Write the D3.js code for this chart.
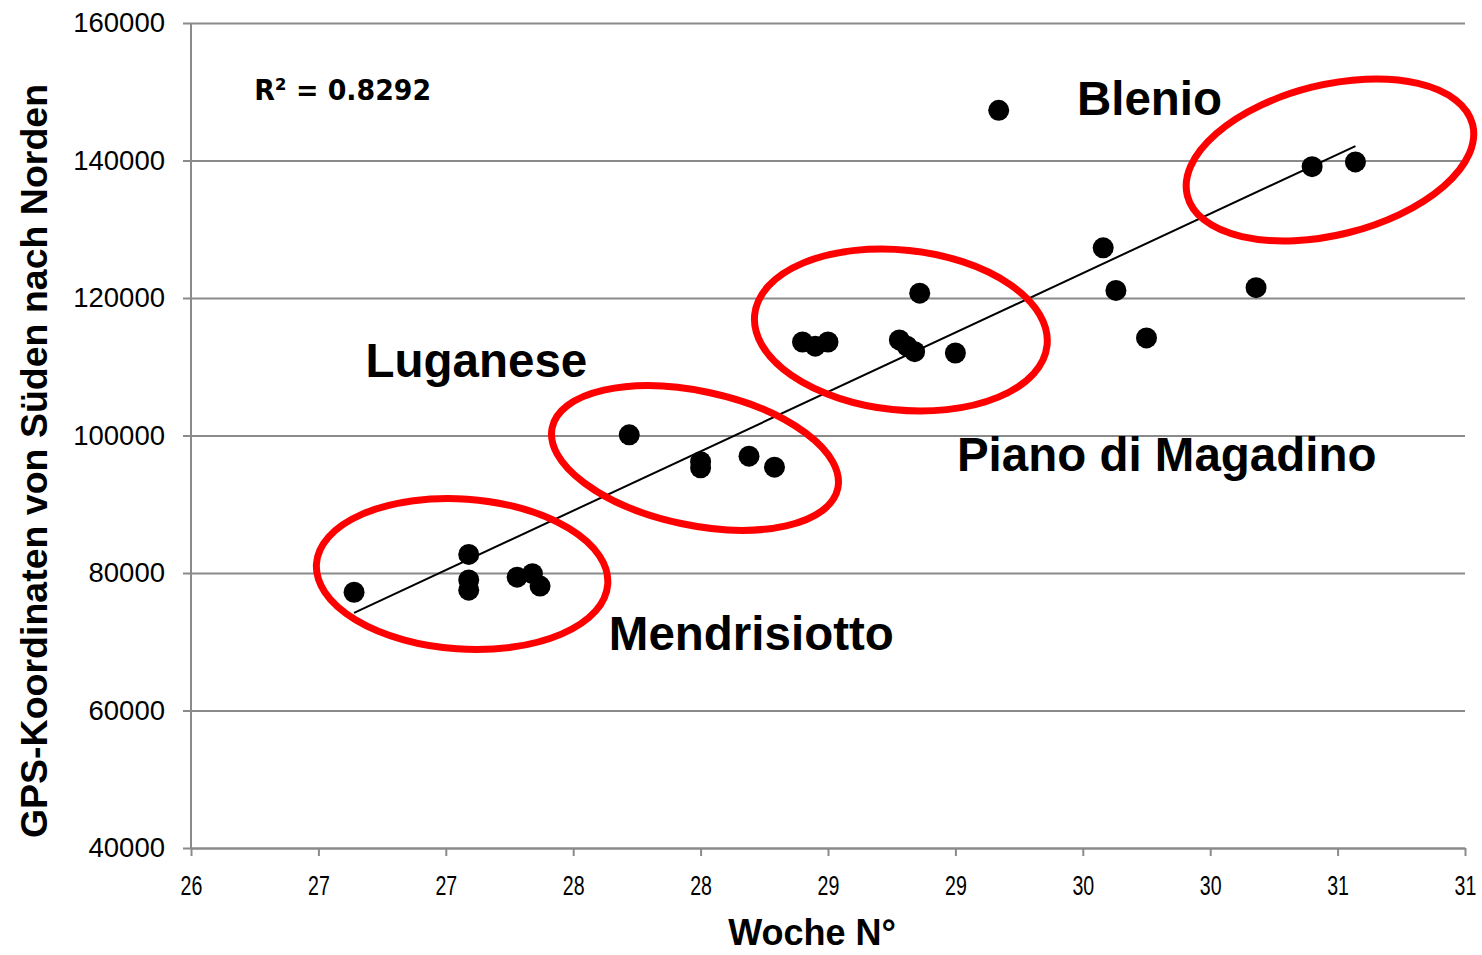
<!DOCTYPE html>
<html>
<head>
<meta charset="utf-8">
<script src="https://cdn.jsdelivr.net/npm/d3@7"></script>
<style>
  html, body { margin: 0; padding: 0; background: #fff; }
  svg { display: block; }
</style>
</head>
<body>
<svg id="chart" width="1482" height="955"></svg>
<script>
// ---- data ----
const weeks = [26.64, 27.09, 27.09, 27.09, 27.28, 27.34, 27.37,
               27.72, 28.00, 28.00, 28.19, 28.29,
               28.40, 28.45, 28.50, 28.78, 28.81, 28.84, 28.86, 29.00,
               29.17, 29.58, 29.63, 29.75, 30.18, 30.40, 30.57];
const coords = [77200, 82700, 79000, 77500, 79400, 79900, 78100,
                100100, 96200, 95300, 97000, 95400,
                113600, 113000, 113600, 113900, 113000, 112200, 120700, 112000,
                147300, 127300, 121100, 114200, 121500, 139100, 139800];
const trendWeeks = [26.64, 30.57];
const trendCoords = [74200, 142100];
const xTicks = [26, 26.5, 27, 27.5, 28, 28.5, 29, 29.5, 30, 30.5, 31];
const xTickLabels = ["26", "27", "27", "28", "28", "29", "29", "30", "30", "31", "31"];
const yTicks = [40000, 60000, 80000, 100000, 120000, 140000, 160000];
const regionNames = ["Mendrisiotto", "Luganese", "Piano di Magadino", "Blenio"];
const regionWeeks = [27.064, 27.978, 28.786, 30.470];      // ellipse centres
const regionCoords = [79855, 96727, 115345, 140073];
const labelWeeks = [27.64, 26.685, 29.006, 29.477];        // label anchors
const labelCoords = [68800, 108500, 94836, 146600];
const r2Text = "R\u00B2 = 0.8292";
const xTitle = "Woche N\u00B0";
const yTitle = "GPS-Koordinaten von S\u00FCden nach Norden";

(function () {
// ---- layout ----
const pLeft = 191, pRight = 1465, pTop = 23, pBottom = 848;
const gridColor = "#8a8a8a";
// ellipse shapes (pixels / degrees), in region order
const ellipseShape = [
  { a: 146, b: 75, rot: 4 },
  { a: 146, b: 67, rot: 12 },
  { a: 147, b: 80, rot: 6 },
  { a: 147, b: 75, rot: -14 }
];

const svg = d3.select("#chart");
const x = d3.scaleLinear().domain([26, 31]).range([pLeft, pRight]);
const y = d3.scaleLinear().domain([40000, 160000]).range([pBottom, pTop]);

// y gridlines + labels
const yAxis = d3.axisLeft(y)
  .tickValues(yTicks)
  .tickFormat(d3.format("d"))
  .tickSize(-(pRight - pLeft + 8))
  .tickPadding(18);
const gy = svg.append("g").attr("transform", `translate(${pLeft - 8},0)`).call(yAxis);
gy.select(".domain").remove();
gy.selectAll(".tick line").attr("stroke", gridColor).attr("stroke-width", 2);
gy.selectAll(".tick text")
  .attr("fill", "#000")
  .style("font-family", "'Liberation Sans', Arial, sans-serif")
  .style("font-size", "27.5px");

// vertical axis line
svg.append("line")
  .attr("x1", pLeft).attr("x2", pLeft)
  .attr("y1", y(160000)).attr("y2", y(40000))
  .attr("stroke", gridColor).attr("stroke-width", 2);

// x axis
const xAxis = d3.axisBottom(x)
  .tickValues(xTicks)
  .tickFormat((d, i) => xTickLabels[i])
  .tickSizeInner(8).tickSizeOuter(0)
  .tickPadding(19);
const gx = svg.append("g").attr("transform", `translate(0,${pBottom})`).call(xAxis);
gx.select(".domain").attr("stroke", gridColor).attr("stroke-width", 2);
gx.selectAll(".tick line").attr("stroke", gridColor).attr("stroke-width", 2);
gx.selectAll(".tick text")
  .attr("fill", "#000")
  .attr("transform", "scale(0.7,1)")
  .style("font-family", "'Liberation Sans', Arial, sans-serif")
  .style("font-size", "28px");

// trend line
svg.append("path")
  .datum(trendWeeks.map((w, i) => [w, trendCoords[i]]))
  .attr("d", d3.line().x(d => x(d[0])).y(d => y(d[1])))
  .attr("fill", "none").attr("stroke", "#000").attr("stroke-width", 2);

// points
svg.append("g").selectAll("circle")
  .data(weeks.map((w, i) => [w, coords[i]]))
  .join("circle")
  .attr("cx", d => x(d[0])).attr("cy", d => y(d[1]))
  .attr("r", 10.5).attr("fill", "#000");

// region ellipses
svg.append("g").selectAll("ellipse")
  .data(regionNames.map((n, i) => ({ n, w: regionWeeks[i], c: regionCoords[i], s: ellipseShape[i] })))
  .join("ellipse")
  .attr("transform", d => `translate(${x(d.w)},${y(d.c)}) rotate(${d.s.rot})`)
  .attr("rx", d => d.s.a).attr("ry", d => d.s.b)
  .attr("fill", "none").attr("stroke", "#ff0000").attr("stroke-width", 7);

// region labels
svg.append("g").selectAll("text")
  .data(regionNames.map((n, i) => ({ n, w: labelWeeks[i], c: labelCoords[i] })))
  .join("text")
  .attr("x", d => x(d.w)).attr("y", d => y(d.c))
  .text(d => d.n)
  .style("font-family", "'Liberation Sans', Arial, sans-serif")
  .style("font-weight", "bold")
  .style("font-size", "47.5px")
  .attr("fill", "#000");

// R² annotation
svg.append("text")
  .attr("x", x(26.248)).attr("y", y(148800))
  .text(r2Text)
  .attr("textLength", 177).attr("lengthAdjust", "spacingAndGlyphs")
  .style("font-family", "'DejaVu Sans Condensed', 'DejaVu Sans', sans-serif")
  .style("font-weight", "bold")
  .style("font-size", "29px")
  .attr("fill", "#000");

// axis titles
svg.append("text")
  .attr("x", (pLeft + pRight) / 2 - 16).attr("y", 945)
  .attr("text-anchor", "middle")
  .text(xTitle)
  .style("font-family", "'Liberation Sans', Arial, sans-serif")
  .style("font-weight", "bold")
  .style("font-size", "36px");

svg.append("text")
  .attr("transform", `translate(47,${(85 + 837) / 2}) rotate(-90)`)
  .attr("text-anchor", "middle")
  .text(yTitle)
  .style("font-family", "'Liberation Sans', Arial, sans-serif")
  .style("font-weight", "bold")
  .style("font-size", "37.5px");
})();
</script>
</body>
</html>
